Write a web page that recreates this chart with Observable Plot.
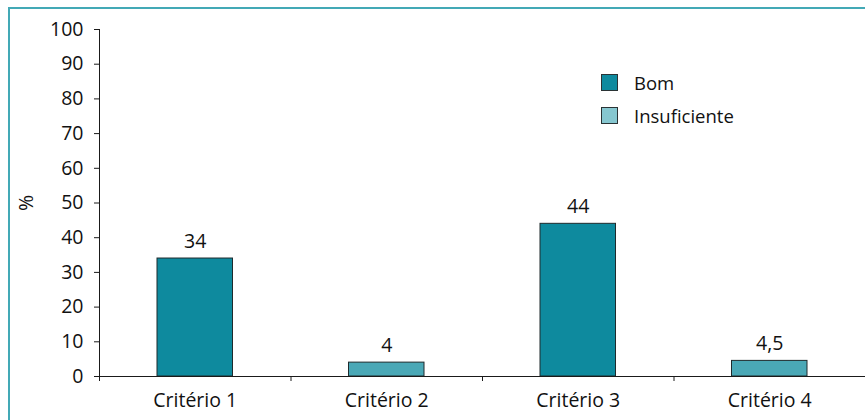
<!DOCTYPE html>
<html>
<head>
<meta charset="utf-8">
<script src="https://cdn.jsdelivr.net/npm/d3@7"></script>
<script src="https://cdn.jsdelivr.net/npm/@observablehq/plot@0.6"></script>
<style>
  html, body { margin: 0; padding: 0; background: #fff; }
  #wrap { position: relative; width: 865px; height: 420px; overflow: hidden; font-family: "Open Sans", sans-serif; }
  #border { position: absolute; left: 8px; top: 7px; right: -4px; bottom: -4px;
            border-top: 2px solid #43a9b6; border-left: 2px solid #43a9b6; pointer-events: none; }
  #chart { position: absolute; left: 0; top: 0; }
  #legend { position: absolute; left: 601px; top: 74px; font-size: 18.5px; color: #111; }
  #legend .item { display: flex; align-items: center; height: 17px; margin-bottom: 16px; }
  #legend .sw { width: 17px; height: 17px; border: 1px solid #2a3335; margin-right: 16px; box-sizing: border-box; }
</style>
</head>
<body>
<div id="wrap">
  <div id="chart"></div>
  <div id="border"></div>
  <div id="legend"></div>
</div>
<script>
// Share of each criterion, by rating
const categories = ["Critério 1", "Critério 2", "Critério 3", "Critério 4"];
const values = [34, 4, 44, 4.5];
const ratings = ["Bom", "Insuficiente", "Bom", "Insuficiente"];
const valueLabels = ["34", "4", "44", "4,5"];
const yTicks = [0, 10, 20, 30, 40, 50, 60, 70, 80, 90, 100];
const yLabel = "%";

const legendNames = ["Bom", "Insuficiente"];
const barColors = ["#0e8a9e", "#4aa8b6"];
const legendColors = ["#0e8a9e", "#86c7d0"];

const data = categories.map((c, i) => ({
  i, category: c, value: values[i], rating: ratings[i], label: valueLabels[i]
}));

const FS = 19.5;

const chart = Plot.plot({
  width: 865,
  height: 420,
  marginLeft: 99,
  marginRight: 0,
  marginTop: 29,
  marginBottom: 44,
  style: { fontFamily: "Open Sans, sans-serif", fontSize: FS + "px", color: "#111", background: "transparent" },
  x: { domain: [0, categories.length] },
  y: { domain: [0, 100] },
  color: { domain: legendNames, range: barColors },
  marks: [
    Plot.rectY(data, {
      x1: d => d.i, x2: d => d.i + 1, y: "value",
      fill: "rating", stroke: "#1e2a2c", strokeWidth: 1,
      insetLeft: 58, insetRight: 58
    }),
    Plot.text(data, {
      x: d => d.i + 0.5, y: "value", text: "label",
      dy: -11, lineAnchor: "bottom", fontSize: FS, fill: "#111"
    }),
    Plot.axisY({
      ticks: yTicks, tickSize: 5, tickPadding: 11, stroke: "#1a1a1a",
      fontSize: FS, fill: "#111", label: null
    }),
    // rotated y-axis title
    Plot.text([yLabel], {
      text: d => d, frameAnchor: "left", textAnchor: "middle", rotate: -90, dx: -73,
      fontSize: FS, fill: "#111"
    }),
    Plot.axisX({
      ticks: d3.range(0, categories.length + 1), tickFormat: () => "",
      tickSize: 5, stroke: "#1a1a1a", label: null
    }),
    Plot.axisX({
      ticks: categories.map((c, i) => i + 0.5),
      tickFormat: (d, i) => categories[i],
      tickSize: 0, tickPadding: 17, fontSize: FS, fill: "#111", label: null
    }),
    Plot.ruleX([0], { stroke: "#1a1a1a" }),
    Plot.ruleY([0], { stroke: "#1a1a1a" })
  ]
});
document.getElementById("chart").append(chart);

const legend = d3.select("#legend");
legendNames.forEach((name, k) => {
  const item = legend.append("div").attr("class", "item");
  item.append("div").attr("class", "sw").style("background", legendColors[k]);
  item.append("span").text(name);
});
</script>
</body>
</html>
